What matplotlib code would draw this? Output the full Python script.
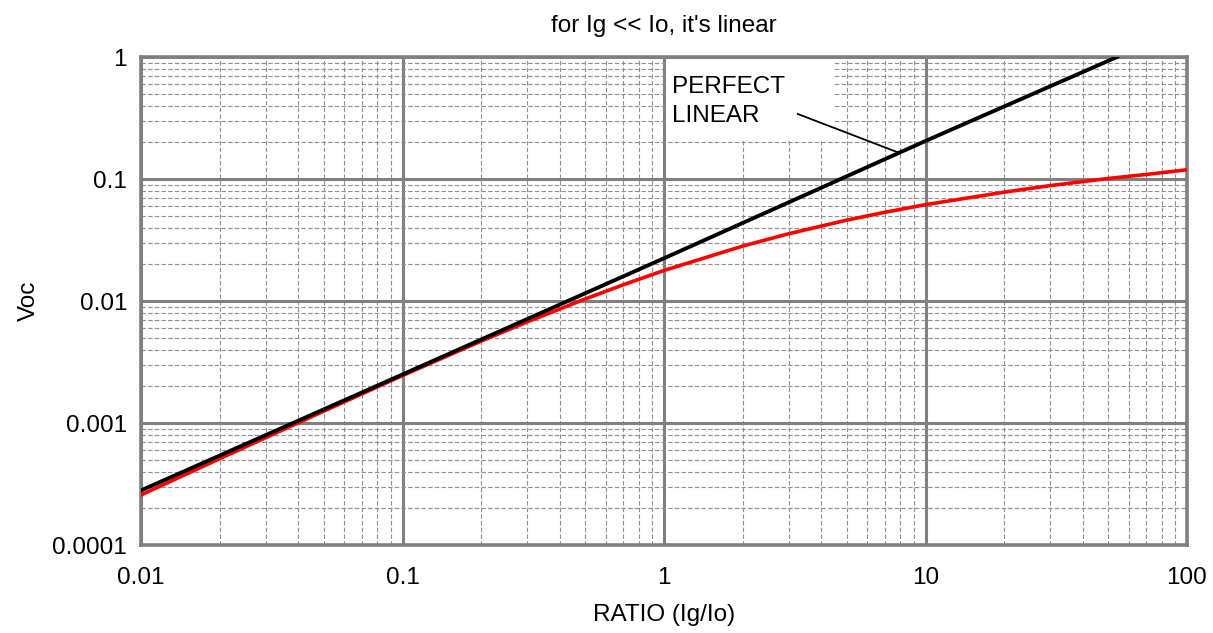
import matplotlib
matplotlib.use("Agg")
import matplotlib.pyplot as plt
from matplotlib.patches import Rectangle

plt.rcParams['font.family'] = ['Liberation Sans', 'DejaVu Sans']

# values
ratio_lin = [0.01, 0.1, 1, 10, 54]
voc_lin = [0.00028, 0.0025, 0.0224, 0.205, 1.0]

ratio_real = [0.01, 0.02, 0.05, 0.1, 0.2, 0.3, 0.5, 0.7, 1, 2, 3, 5, 7,
              10, 20, 30, 50, 70, 100]
voc_real = [0.000257, 0.00051, 0.00125, 0.00245, 0.00469, 0.00674, 0.0104,
            0.0136, 0.0178, 0.0282, 0.0356, 0.046, 0.0534, 0.0616, 0.078,
            0.0883, 0.101, 0.109, 0.119]

xticks = [0.01, 0.1, 1, 10, 100]
xtick_labels = ['0.01', '0.1', '1', '10', '100']
yticks = [0.0001, 0.001, 0.01, 0.1, 1]
ytick_labels = ['0.0001', '0.001', '0.01', '0.1', '1']

fs = 17.5

fig = plt.figure(figsize=(12.13, 6.33), dpi=100)
ax = fig.add_axes([141 / 1213, 1 - 545 / 633, 1046 / 1213, 488 / 633])

ax.set_xscale('log')
ax.set_yscale('log')
ax.set_xlim(0.01, 100)
ax.set_ylim(0.0001, 1)

ax.grid(which='major', color='#808080', linewidth=2.2, linestyle='-', zorder=1)
ax.grid(which='minor', color='#909090', linewidth=0.8, linestyle=(0, (4, 2)), zorder=1)
ax.set_axisbelow(True)

for s in ax.spines.values():
    s.set_color('#808080')
    s.set_linewidth(2.6)

ax.set_xticks(xticks)
ax.set_xticklabels(xtick_labels)
ax.set_yticks(yticks)
ax.set_yticklabels(ytick_labels)
ax.tick_params(which='both', length=0, labelsize=fs)
ax.tick_params(axis='x', pad=16)
ax.tick_params(axis='y', pad=10)

# white box behind the label
ax.add_patch(Rectangle((0.503, 0.83), 0.159, 0.164, transform=ax.transAxes,
                       facecolor='white', edgecolor='none', zorder=1.5))
ax.text(0.508, 0.962, 'PERFECT\nLINEAR', transform=ax.transAxes, fontsize=fs,
        va='top', ha='left', linespacing=1.42, zorder=3)
ax.plot([3.25, 7.98], [0.341, 0.163], color='black', linewidth=1.3, zorder=3)

ax.plot(ratio_real, voc_real, color='#ff0000', linewidth=2.6, zorder=4)
ax.plot(ratio_lin, voc_lin, color='black', linewidth=2.8, zorder=5)

ax.set_xlabel('RATIO (Ig/Io)', fontsize=fs, labelpad=11)
ax.set_ylabel('Voc', fontsize=fs, labelpad=9)
ax.set_title("for Ig << Io, it's linear", fontsize=fs, pad=18)

fig.savefig('out.png', dpi=100)
